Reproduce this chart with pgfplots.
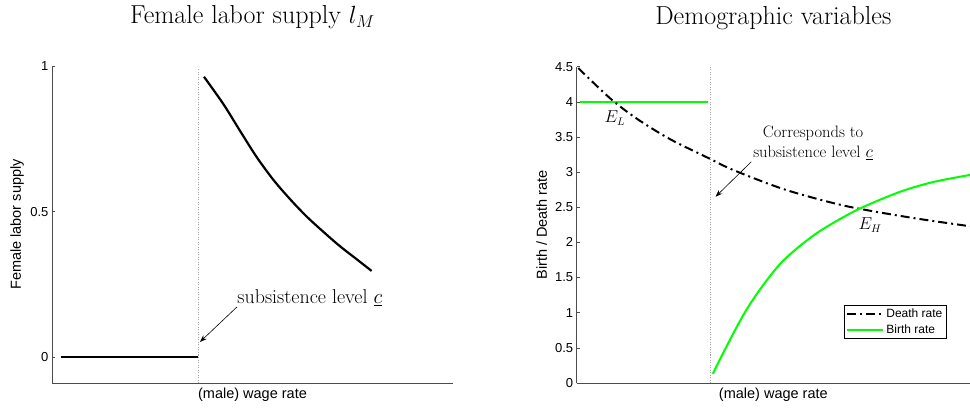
\documentclass[border=0pt]{standalone}
\usepackage{fontspec}
\newfontfamily\arial{Liberation Sans}
\usepackage{pgfplots}
\pgfplotsset{compat=1.18}
\usetikzlibrary{arrows.meta}

\definecolor{pureGreen}{RGB}{0,255,0}

\pgfplotsset{
  panel/.style={
    scale only axis,
    axis lines*=left,
    xmin=0, xmax=1,
    xtick=\empty,
    tick align=inside,
    major tick length=3pt,
    axis line style={black!70, line width=0.8pt},
    every tick/.style={black!70, line width=0.6pt},
    tick label style={font=\arial\fontsize{13}{15}\selectfont},
    /pgf/number format/assume math mode=true,
    label style={font=\arial\fontsize{14.5}{17}\selectfont},
    title style={font=\fontsize{26}{30}\selectfont, at={(0.5,1)}, anchor=base, yshift=36pt},
    xlabel style={at={(axis description cs:0.5,0)}, anchor=base, yshift=-15pt},
    clip=false,
  },
}

\begin{document}
\begin{tikzpicture}
\path[use as bounding box] (0,0) rectangle (970pt,410pt);

% ---- left panel: female labor supply
\begin{axis}[panel,
  at={(52pt,27pt)}, anchor=south west,
  width=401pt, height=317pt,
  ymin=-0.089, ymax=1,
  ytick={0,0.5,1},
  title={Female labor supply $l_M$},
  xlabel={(male) wage rate},
  ylabel={Female labor supply},
  ylabel style={at={(axis description cs:-0.087,0.5)}, anchor=center},
]
\addplot[gray!70, line width=0.8pt, dash pattern=on 1pt off 1.5pt] coordinates {(0.364,-0.089) (0.364,0.99)};
\addplot[black, line width=2.2pt] coordinates {(0.022,0) (0.364,0)};
\addplot[black, line width=2.2pt, smooth] coordinates {
  (0.379,0.963) (0.427,0.870) (0.469,0.777) (0.510,0.688) (0.552,0.609)
  (0.594,0.542) (0.635,0.483) (0.677,0.430) (0.718,0.381) (0.760,0.336)
  (0.797,0.296)};
\node[font=\fontsize{20}{22}\selectfont] at (axis cs:0.643,0.203) {subsistence level $\underline{c}$};
\draw[-{Stealth[length=7pt,width=5pt]}, line width=0.6pt] (axis cs:0.461,0.172) -- (axis cs:0.369,0.052);
\end{axis}

% ---- right panel: demographic variables
\begin{axis}[panel,
  at={(576.7pt,27pt)}, anchor=south west,
  width=393.3pt, height=316.3pt,
  ymin=0, ymax=4.5,
  ytick={0,0.5,...,4.5},
  title={Demographic variables},
  xlabel={(male) wage rate},
  ylabel={Birth / Death rate},
  ylabel style={at={(axis description cs:-0.089,0.5)}, anchor=center},
  legend style={at={(0.941,0.139)}, anchor=south east,
    font=\arial\fontsize{12}{14}\selectfont, draw=black, line width=0.8pt,
    inner sep=2pt, row sep=1pt},
  legend image code/.code={\draw[#1] (0pt,0pt) -- (36pt,0pt);},
  legend cell align=left,
]
\addplot[gray!70, line width=0.8pt, dash pattern=on 1pt off 1.5pt, forget plot] coordinates {(0.341,0) (0.341,4.5)};
\addplot[pureGreen, line width=2pt, forget plot] coordinates {(0.008,4) (0.335,4)};
\addplot[black, line width=2pt, smooth, dash pattern=on 9pt off 4pt on 2pt off 4pt] coordinates {
  (0.004,4.48) (0.085,4.05) (0.153,3.76) (0.237,3.47) (0.335,3.20)
  (0.398,3.03) (0.525,2.76) (0.652,2.56) (0.737,2.46) (0.864,2.34)
  (1.000,2.23)};
\addlegendentry{Death rate}
\addplot[pureGreen, line width=2pt, smooth] coordinates {
  (0.346,0.13) (0.381,0.52) (0.424,0.97) (0.466,1.33) (0.525,1.74)
  (0.610,2.13) (0.712,2.46) (0.822,2.72) (0.907,2.86) (1.000,2.96)};
\addlegendentry{Birth rate}
\node[font=\fontsize{16.5}{20}\selectfont, align=center] at (axis cs:0.601,3.42) {Corresponds to\\subsistence level $\underline{c}$};
\draw[-{Stealth[length=7pt,width=5pt]}, line width=0.6pt] (axis cs:0.444,3.148) -- (axis cs:0.353,2.650);
\node[font=\fontsize{16}{18}\selectfont] at (axis cs:0.097,3.77) {$E_L$};
\node[font=\fontsize{16}{18}\selectfont] at (axis cs:0.746,2.25) {$E_H$};
\end{axis}
\end{tikzpicture}
\end{document}
